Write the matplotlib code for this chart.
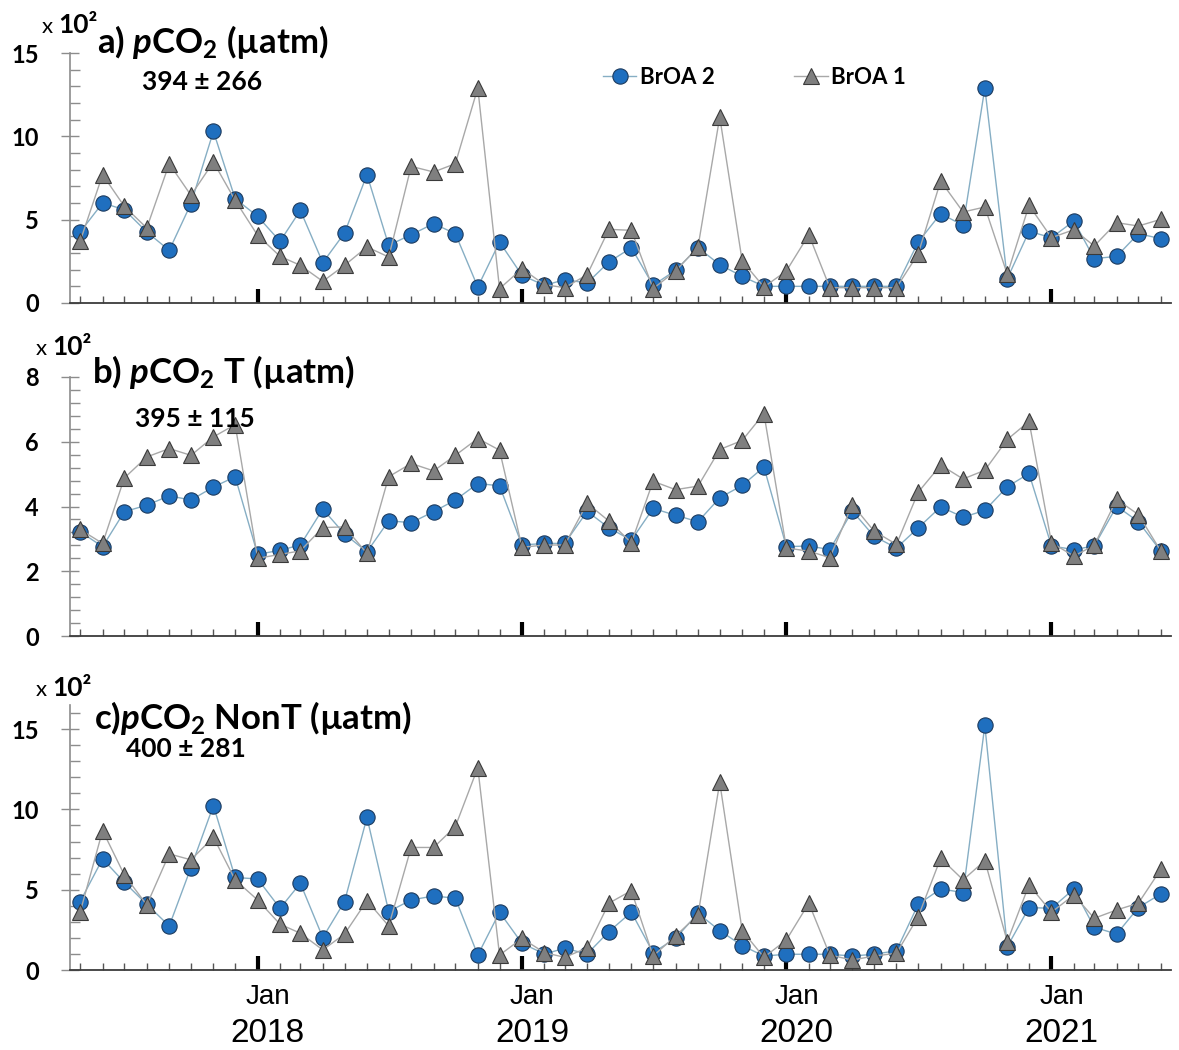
import numpy as np
import matplotlib
matplotlib.use("Agg")
import matplotlib.pyplot as plt
import matplotlib.dates as mdates
from matplotlib.ticker import MultipleLocator

plt.rcParams["font.family"] = ["Lato", "DejaVu Sans"]
plt.rcParams["mathtext.fontset"] = "custom"
plt.rcParams["mathtext.rm"] = "Lato"
plt.rcParams["mathtext.bf"] = "Lato:bold"
plt.rcParams["mathtext.it"] = "Lato:italic"
plt.rcParams["mathtext.bfit"] = "Lato:italic:bold"

# monthly sampling, May 2017 - Jun 2021
months = np.arange("2017-05", "2021-07", dtype="datetime64[M]").astype("datetime64[D]")

# values in units of 10^2 uatm
pco2_broa2 = [4.26, 6.0, 5.6, 4.26, 3.16, 5.96, 10.3, 6.26, 5.2, 3.7,
              5.56, 2.42, 4.2, 7.7, 3.46, 4.1, 4.76, 4.16, 0.96, 3.66,
              1.66, 1.06, 1.4, 1.2, 2.46, 3.32, 1.06, 1.96, 3.32, 2.3,
              1.6, 1.0, 1.0, 1.0, 1.0, 1.0, 1.0, 1.0, 3.66, 5.36,
              4.66, 12.9, 1.46, 4.3, 3.92, 4.92, 2.66, 2.8, 4.16, 3.86]
pco2_broa1 = [3.7, 7.7, 5.8, 4.5, 8.36, 6.46, 8.46, 6.16, 4.06, 2.8,
              2.26, 1.3, 2.26, 3.36, 2.76, 8.2, 7.86, 8.36, 12.9, 0.86,
              2.06, 1.1, 0.92, 1.7, 4.42, 4.36, 0.86, 1.92, 3.36, 11.16,
              2.52, 0.96, 1.92, 4.1, 0.92, 0.92, 0.92, 0.92, 2.96, 7.32,
              5.46, 5.76, 1.72, 5.86, 3.92, 4.4, 3.42, 4.82, 4.62, 5.02]

pco2t_broa2 = [3.22, 2.76, 3.84, 4.04, 4.33, 4.2, 4.6, 4.92, 2.52, 2.65,
               2.81, 3.92, 3.15, 2.6, 3.56, 3.5, 3.84, 4.2, 4.71, 4.64,
               2.81, 2.86, 2.86, 3.85, 3.34, 2.96, 3.94, 3.73, 3.53, 4.27,
               4.65, 5.22, 2.76, 2.78, 2.67, 3.86, 3.08, 2.72, 3.34, 3.99,
               3.67, 3.88, 4.61, 5.02, 2.78, 2.67, 2.78, 4.01, 3.53, 2.62]
pco2t_broa1 = [3.29, 2.86, 4.88, 5.53, 5.79, 5.58, 6.15, 6.53, 2.4, 2.52,
               2.63, 3.35, 3.37, 2.55, 4.92, 5.33, 5.1, 5.58, 6.1, 5.74,
               2.74, 2.81, 2.81, 4.1, 3.55, 2.88, 4.78, 4.52, 4.63, 5.76,
               6.04, 6.87, 2.72, 2.62, 2.42, 4.06, 3.24, 2.83, 4.44, 5.28,
               4.85, 5.12, 6.07, 6.63, 2.88, 2.47, 2.8, 4.22, 3.75, 2.62]

pco2nt_broa2 = [4.26, 6.92, 5.46, 4.09, 2.74, 6.38, 10.24, 5.76, 5.67, 3.84,
                5.4, 2.02, 4.26, 9.5, 3.64, 4.36, 4.61, 4.47, 0.93, 3.6,
                1.66, 1.0, 1.35, 1.0, 2.39, 3.6, 1.08, 1.97, 3.53, 2.45,
                1.52, 0.87, 0.98, 0.98, 0.98, 0.87, 0.98, 1.2, 4.09, 5.05,
                4.82, 15.23, 1.45, 3.89, 3.84, 5.05, 2.66, 2.24, 3.89, 4.74]
pco2nt_broa1 = [3.6, 8.68, 5.92, 4.05, 7.23, 6.86, 8.27, 5.61, 4.36, 2.85,
                2.29, 1.25, 2.24, 4.32, 2.74, 7.63, 7.63, 8.93, 12.6, 0.93,
                1.97, 1.08, 0.79, 1.38, 4.16, 4.94, 0.87, 2.12, 3.43, 11.68,
                2.45, 0.79, 1.87, 4.16, 0.93, 0.62, 0.87, 1.04, 3.32, 6.96,
                5.61, 6.81, 1.77, 5.3, 3.6, 4.67, 3.22, 3.74, 4.16, 6.27]

titles = [r"a) $\mathbfit{p}\mathbf{CO}_{\mathbf{2}}$ (µatm)",
          r"b) $\mathbfit{p}\mathbf{CO}_{\mathbf{2}}$ T (µatm)",
          r"c)$\mathbfit{p}\mathbf{CO}_{\mathbf{2}}$ NonT (µatm)"]
stats = ["394 ± 266", "395 ± 115", "400 ± 281"]
year_labels = ["2018", "2019", "2020", "2021"]

W, H = 1179, 1050


def px(x, y):
    # pixel position (from top-left) -> figure fraction
    return x / W, 1 - y / H


fig = plt.figure(figsize=(W / 100, H / 100), dpi=100)

# axes boxes in pixels: left, right, top, bottom
boxes = [(70, 1171, 53, 303), (70, 1171, 377, 636), (70, 1171, 705, 970)]
ylims = [15, 8, 16.5]
ymajor = [[0, 5, 10, 15], [0, 2, 4, 6, 8], [0, 5, 10, 15]]
yminor = [1, 0.4, 1]
series = [(pco2_broa2, pco2_broa1), (pco2t_broa2, pco2t_broa1),
          (pco2nt_broa2, pco2nt_broa1)]
# title / stats / "x 10^2" anchor pixels
title_pos = [(97, 53), (92, 383), (94, 729)]
stats_pos = [(142, 90), (135, 427), (126, 757)]
mult_pos = [(42, 33), (36, 355), (36, 696)]

axes = []
for k in range(3):
    l, r, t, b = boxes[k]
    ax = fig.add_axes([l / W, 1 - b / H, (r - l) / W, (b - t) / H])
    axes.append(ax)
    s2, s1 = series[k]
    ax.plot(months, s2, "-o", color="#86aec4", lw=1.0, ms=11,
            mfc="#1f6fbf", mec="#1d3b5e", mew=0.8, zorder=3, label="BrOA 2")
    ax.plot(months, s1, "-^", color="#a8a8a8", lw=1.0, ms=12,
            mfc="#7f7f7f", mec="#3a3a3a", mew=0.8, zorder=4, label="BrOA 1")

    ax.set_ylim(0, ylims[k])
    ax.set_yticks(ymajor[k], [str(v) for v in ymajor[k]], fontweight="bold")
    ax.yaxis.set_minor_locator(MultipleLocator(yminor[k]))
    ax.set_xlim(np.datetime64("2017-04-17"), np.datetime64("2021-06-15"))
    ax.xaxis.set_major_locator(mdates.YearLocator())
    ax.xaxis.set_minor_locator(mdates.MonthLocator())
    ax.set_xticklabels([])

    for side in ["top", "right"]:
        ax.spines[side].set_visible(False)
    ax.spines["left"].set_color("#8c8c8c")
    ax.spines["left"].set_linewidth(1.2)
    ax.spines["bottom"].set_color("#3c3c3c")
    ax.spines["bottom"].set_linewidth(1.3)

    ax.tick_params(axis="y", which="major", direction="inout", length=13,
                   width=1.0, color="#8c8c8c", pad=16, labelsize=17)
    ax.tick_params(axis="y", which="minor", direction="in", length=7,
                   width=1.0, color="#8c8c8c")
    ax.tick_params(axis="x", which="major", direction="in", length=10,
                   width=3.0, color="black")
    ax.tick_params(axis="x", which="minor", direction="in", length=5,
                   width=1.0, color="#555555")

    fig.text(*px(*title_pos[k]), titles[k], fontsize=25, fontweight="bold",
             va="baseline", ha="left")
    fig.text(*px(*stats_pos[k]), stats[k], fontsize=19, fontweight="bold",
             va="baseline", ha="left")
    # "x 10^2" multiplier above the y axis
    mx, my = mult_pos[k]
    fig.text(*px(mx, my), "x", fontsize=16, va="baseline", ha="left")
    fig.text(*px(mx + 16, my), "10²", fontsize=19, fontweight="bold",
             va="baseline", ha="left")

# legend in the top panel
axes[0].legend(loc="center left", bbox_to_anchor=px(603, 77),
               bbox_transform=fig.transFigure, ncol=2, frameon=False,
               handlelength=1.5, handletextpad=0.15, columnspacing=3.6,
               borderpad=0, borderaxespad=0, prop={"weight": "bold", "size": 16})

# year labels under the bottom panel, centred on mid-January
ax = axes[2]
for yr in year_labels:
    xd = mdates.date2num(np.datetime64(yr + "-01-15"))
    xf = fig.transFigure.inverted().transform(ax.transData.transform((xd, 0)))[0]
    fig.text(xf, 1 - 1004 / H, "Jan", fontsize=20, family="Liberation Sans",
             ha="center", va="baseline")
    fig.text(xf, 1 - 1042 / H, yr, fontsize=24, family="Liberation Sans",
             ha="center", va="baseline")

fig.savefig("out.png", dpi=100)
